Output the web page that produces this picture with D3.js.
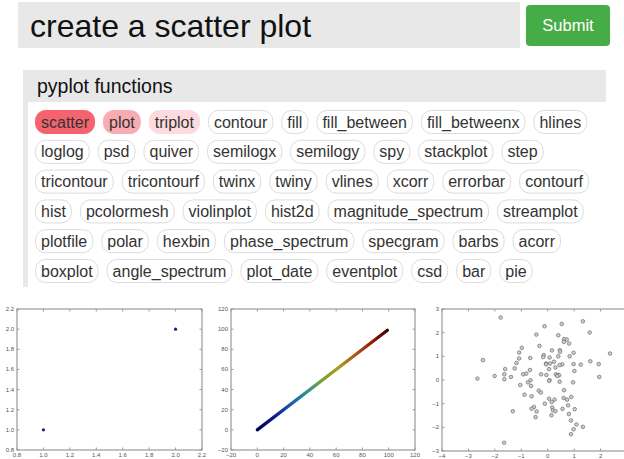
<!DOCTYPE html>
<html>
<head>
<meta charset="utf-8">
<script src="https://cdn.jsdelivr.net/npm/d3@7"></script>
<style>
  body { margin: 0; background: #fff; }
  svg { display: block; font-family: "Liberation Sans", Arial, sans-serif; }
</style>
</head>
<body>
<script>
// ---- data ----
var queryText = "create a scatter plot";
var buttonText = "Submit";
var panelTitle = "pyplot functions";
var funcNames = ["scatter", "plot", "triplot", "contour", "fill", "fill_between", "fill_betweenx", "hlines",
  "loglog", "psd", "quiver", "semilogx", "semilogy", "spy", "stackplot", "step",
  "tricontour", "tricontourf", "twinx", "twiny", "vlines", "xcorr", "errorbar", "contourf",
  "hist", "pcolormesh", "violinplot", "hist2d", "magnitude_spectrum", "streamplot",
  "plotfile", "polar", "hexbin", "phase_spectrum", "specgram", "barbs", "acorr",
  "boxplot", "angle_spectrum", "plot_date", "eventplot", "csd", "bar", "pie"];
var hotNames = ["scatter", "plot", "triplot"];

// plot 1: two points
var p1X = [1, 2];
var p1Y = [1, 2];
var p1Ticks = [0.8, 1.0, 1.2, 1.4, 1.6, 1.8, 2.0, 2.2];

// plot 2: line coloured by index
var p2X = [0, 99];
var p2Y = [0, 99];
var p2Ticks = [-20, 0, 20, 40, 60, 80, 100, 120];

// plot 3: scatter
var p3X = [-1.78, 1.33, -0.12, 0.53, 1.59, -0.43, 0.40, 0.62, 0.72, 0.61, 0.81, -0.31, -0.98, 0.16, 0.46, 0.47,
  0.98, 2.36, -1.08, -0.15, -0.17, 0.07, 0.40, 0.83, -0.66, -1.08, -2.45, 0.24, -0.06, -0.06, 0.09, 0.55,
  0.45, 0.98, 1.25, 1.93, 1.61, -1.18, 0.29, 0.05, -1.25, -1.61, -0.67, 1.01, -0.93, -0.81, -0.25, -0.05,
  0.31, 0.39, 0.43, 0.36, -1.64, -2.01, -1.39, -2.66, 1.95, -1.64, -0.65, -0.75, 0.07, 0.05, 0.45, 0.96,
  -0.63, -1.04, -0.34, -0.26, 0.62, -0.88, -0.61, 0.60, 0.73, 0.89, 0.05, 0.26, -0.11, 0.15, 0.77, -0.52,
  -0.61, 0.17, 0.56, 1.02, 0.20, 0.29, -0.42, -1.32, 0.80, 0.14, -0.46, 0.88, 1.09, 1.33, 0.98, 0.88, -1.65];
var p3Y = [2.64, 2.48, 2.27, 2.37, 2.01, 1.92, 1.89, 1.73, 1.71, 1.61, 1.54, 1.44, 1.36, 1.25, 1.26, 1.19,
  1.15, 1.12, 1.16, 1.05, 0.97, 0.95, 1.00, 1.00, 0.93, 0.91, 0.84, 0.77, 0.70, 0.66, 0.70, 0.66,
  0.63, 0.67, 0.65, 0.67, 0.79, 0.72, 0.53, 0.46, 0.49, 0.46, 0.42, 0.38, 0.24, 0.27, 0.24, 0.21,
  0.24, 0.21, 0.20, 0.17, 0.24, 0.17, 0.13, 0.06, 0.13, 0.03, -0.01, -0.10, -0.01, -0.03, -0.07, -0.10,
  -0.25, -0.21, -0.45, -0.53, -0.43, -0.62, -0.69, -0.76, -0.83, -0.72, -0.79, -0.83, -1.00, -0.93, -1.07, -1.14,
  -1.21, -1.16, -1.22, -1.23, -1.28, -1.32, -1.33, -1.32, -1.44, -1.49, -1.57, -1.71, -1.88, -1.98, -2.08, -2.29, -2.65];
var p3XTicks = [-4, -3, -2, -1, 0, 1, 2];
var p3YTicks = [-3, -2, -1, 0, 1, 2, 3];

var jet = ["#00004a", "#0a1890", "#1a5aa8", "#2a9098", "#7aa038", "#b09a18", "#b05a14", "#981a0a", "#400000"];

// ---- drawing ----
var svg = d3.select("body").append("svg").attr("width", 624).attr("height", 459);

// search box + button
svg.append("rect").attr("x", 18).attr("y", 2).attr("width", 502).attr("height", 46).attr("fill", "#e8e8e8");
svg.append("text").attr("x", 30).attr("y", 37).attr("font-size", 32).attr("fill", "#111").text(queryText);
svg.append("rect").attr("x", 526).attr("y", 5).attr("width", 84).attr("height", 41).attr("rx", 4)
  .attr("fill", "#46ad46");
svg.append("text").attr("x", 568).attr("y", 31).attr("text-anchor", "middle").attr("font-size", 16.5)
  .attr("fill", "#fff").text(buttonText);

// panel
svg.append("rect").attr("x", 23).attr("y", 70).attr("width", 583).attr("height", 32).attr("fill", "#e8e8e8");
svg.append("rect").attr("x", 23).attr("y", 102).attr("width", 5).attr("height", 185).attr("fill", "#e8e8e8");
svg.append("text").attr("x", 37).attr("y", 93).attr("font-size", 19.5).attr("fill", "#111").text(panelTitle);

var hotFill = d3.scaleOrdinal().domain(hotNames).range(["#f5636f", "#f9abb2", "#fcdadd"]).unknown("#fff");
var tagPad = 6, tagGap = 8, tagH = 23, rowStep = 29.8, left = 35, wrapAt = 604;
var tags = svg.append("g");
var cx = left, row = 0;
funcNames.forEach(function (name) {
  var g = tags.append("g");
  var t = g.append("text").attr("font-size", 16).attr("fill", "#333").text(name);
  var w = t.node().getComputedTextLength() + tagPad * 2;
  if (cx + w > wrapAt) { cx = left; row++; }
  var y0 = 110 + row * rowStep;
  var isHot = hotNames.indexOf(name) >= 0;
  g.insert("rect", "text").attr("x", cx + 0.5).attr("y", y0 + 0.5).attr("width", w - 1).attr("height", tagH)
    .attr("rx", 10).attr("fill", hotFill(name))
    .attr("stroke", isHot ? hotFill(name) : "#dcdcdc");
  t.attr("x", cx + tagPad).attr("y", y0 + 17.5);
  cx += w + tagGap;
});

// small matplotlib-like axes
function axesFrame(box, xs, ys, xt, yt, fmt) {
  var g = svg.append("g").attr("font-size", 6).attr("fill", "#555");
  g.append("rect").attr("x", box.l).attr("y", box.t).attr("width", box.r - box.l).attr("height", box.b - box.t)
    .attr("fill", "#fff").attr("stroke", "#9a9a9a").attr("stroke-width", 1.2);
  xt.forEach(function (v) {
    var x = xs(v);
    g.append("line").attr("x1", x).attr("x2", x).attr("y1", box.b).attr("y2", box.b - 2.5).attr("stroke", "#9a9a9a");
    g.append("line").attr("x1", x).attr("x2", x).attr("y1", box.t).attr("y2", box.t + 2.5).attr("stroke", "#9a9a9a");
    g.append("text").attr("x", x).attr("y", box.b + 7).attr("text-anchor", "middle").text(fmt(v));
  });
  yt.forEach(function (v) {
    var y = ys(v);
    g.append("line").attr("x1", box.l).attr("x2", box.l + 2.5).attr("y1", y).attr("y2", y).attr("stroke", "#9a9a9a");
    g.append("line").attr("x1", box.r).attr("x2", box.r - 2.5).attr("y1", y).attr("y2", y).attr("stroke", "#9a9a9a");
    g.append("text").attr("x", box.l - 3).attr("y", y + 2).attr("text-anchor", "end").text(fmt(v));
  });
  return g;
}
var minusFmt = function (f) { return function (v) { return d3.format(f)(v).replace("-", "\u2212"); }; };

// plot 1
var b1 = { l: 17, r: 202, t: 309, b: 450 };
var x1 = d3.scaleLinear().domain([0.8, 2.2]).range([b1.l, b1.r]);
var y1 = d3.scaleLinear().domain([0.8, 2.2]).range([b1.b, b1.t]);
var g1 = axesFrame(b1, x1, y1, p1Ticks, p1Ticks, minusFmt(".1f"));
g1.selectAll("circle").data(p1X).enter().append("circle")
  .attr("cx", function (d) { return x1(d); }).attr("cy", function (d, i) { return y1(p1Y[i]); })
  .attr("r", 1.6).attr("fill", "#1b1b8c");

// plot 2
var b2 = { l: 231, r: 415, t: 309, b: 450 };
var x2 = d3.scaleLinear().domain([-20, 120]).range([b2.l, b2.r]);
var y2 = d3.scaleLinear().domain([-20, 120]).range([b2.b, b2.t]);
var g2 = axesFrame(b2, x2, y2, p2Ticks, p2Ticks, minusFmt("d"));
var grad = svg.append("defs").append("linearGradient").attr("id", "jet").attr("gradientUnits", "userSpaceOnUse")
  .attr("x1", x2(p2X[0])).attr("y1", y2(p2Y[0])).attr("x2", x2(p2X[1])).attr("y2", y2(p2Y[1]));
grad.selectAll("stop").data(jet).enter().append("stop")
  .attr("offset", function (d, i) { return i / (jet.length - 1); }).attr("stop-color", function (d) { return d; });
g2.append("path").datum(d3.zip(p2X, p2Y))
  .attr("d", d3.line().x(function (d) { return x2(d[0]); }).y(function (d) { return y2(d[1]); }))
  .attr("stroke", "url(#jet)").attr("stroke-width", 3.2).attr("stroke-linecap", "round").attr("fill", "none");

// plot 3
var b3 = { l: 442, r: 627, t: 309, b: 451 };
var x3 = d3.scaleLinear().domain([-4, 3]).range([b3.l, b3.r]);
var y3 = d3.scaleLinear().domain([-3, 3]).range([b3.b, b3.t]);
var g3 = axesFrame(b3, x3, y3, p3XTicks, p3YTicks, minusFmt("d"));
g3.selectAll("circle").data(p3X).enter().append("circle")
  .attr("cx", function (d) { return x3(d); }).attr("cy", function (d, i) { return y3(p3Y[i]); })
  .attr("r", 1.8).attr("fill", "#cfcfcf").attr("stroke", "#6a6a6a").attr("stroke-width", 0.7);
</script>
</body>
</html>
